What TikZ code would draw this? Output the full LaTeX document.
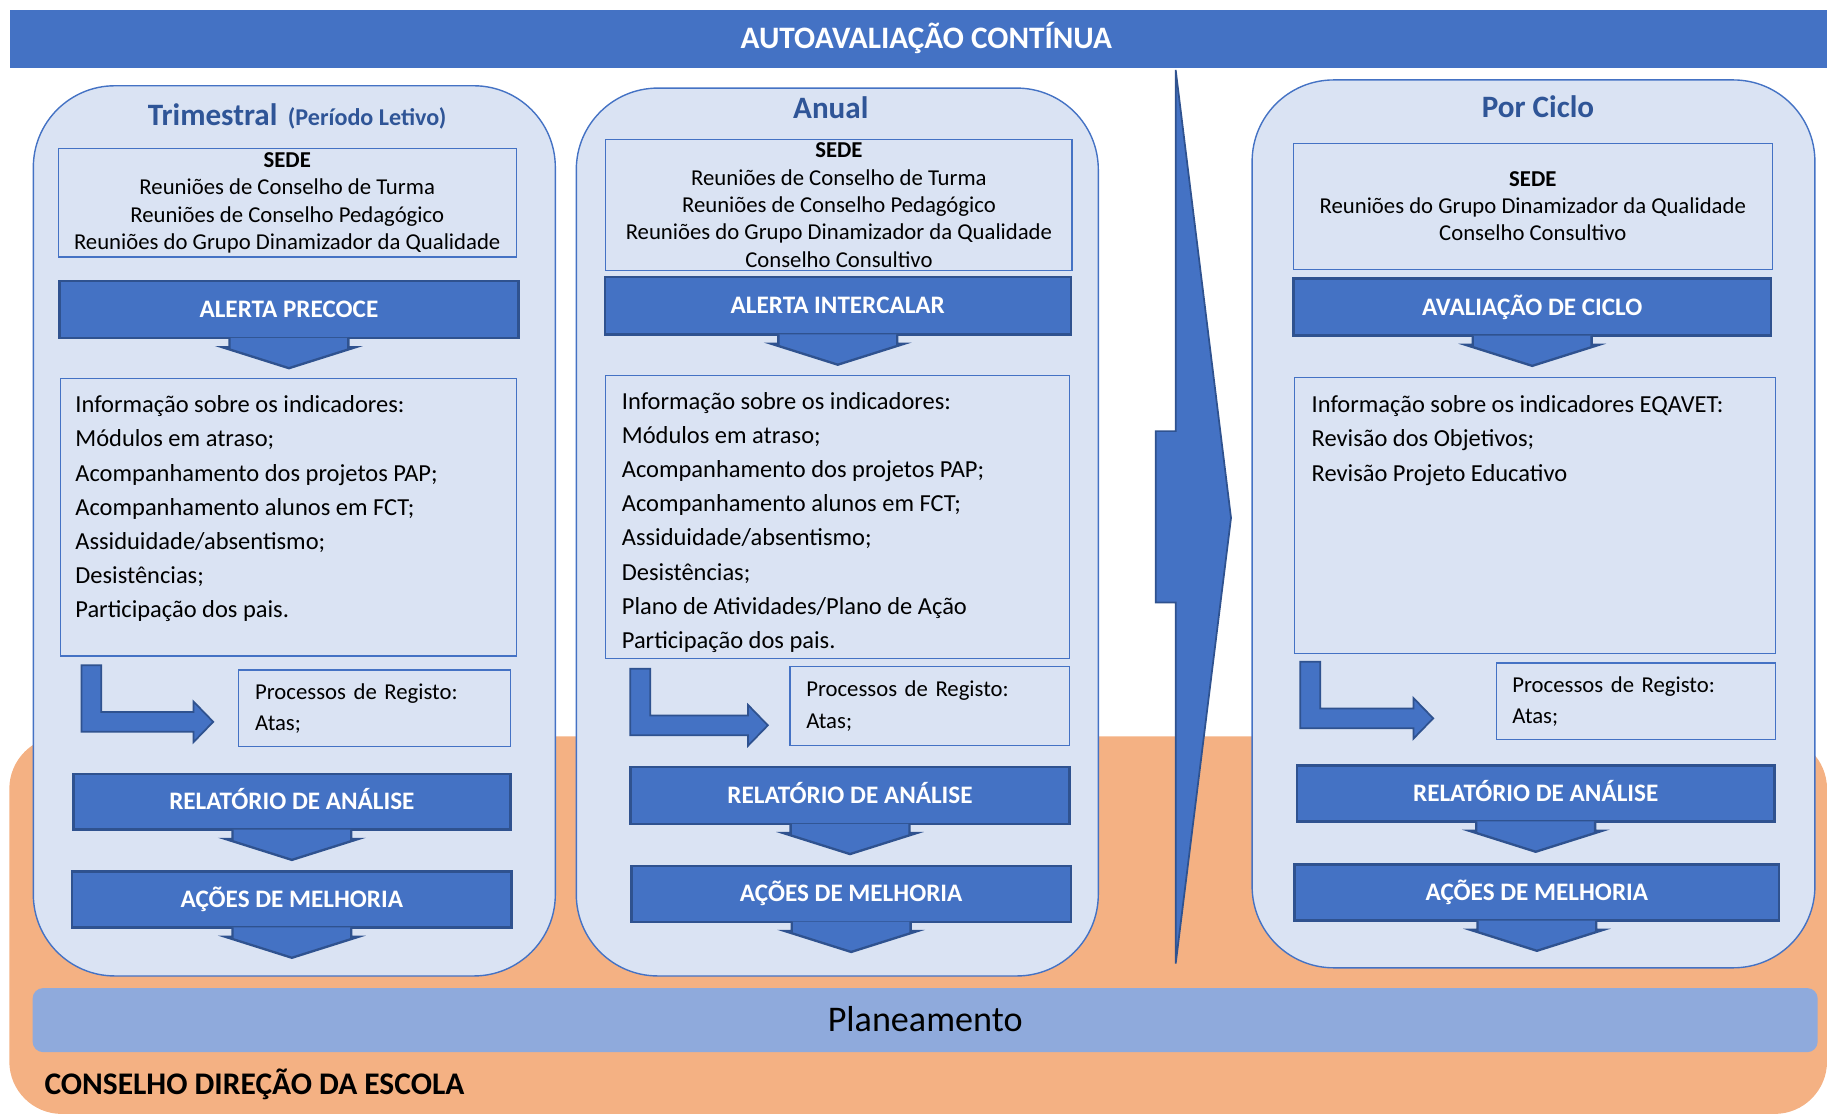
\documentclass[tikz,border=0pt]{standalone}
\usepackage{fontspec}
\setmainfont{Carlito}
\usetikzlibrary{positioning}
\definecolor{bandblue}{HTML}{4472C4}
\definecolor{banddark}{HTML}{2F528F}
\definecolor{panelfill}{HTML}{DAE3F3}
\definecolor{titleblue}{HTML}{2F5597}
\definecolor{orangebg}{HTML}{F4B183}
\definecolor{planblue}{HTML}{8FAADC}

\begin{document}
\begin{tikzpicture}[x=1pt, y=-1pt,
  panel/.style = {draw=bandblue, line width=1.2pt, fill=panelfill, rounded corners=70pt, anchor=north west},
  box/.style = {draw=bandblue, line width=1pt, inner sep=0pt},
  band/.style = {draw=banddark, line width=2pt, fill=bandblue, text=white, font=\fontsize{21.6}{25}\selectfont\bfseries, text height=13.9pt, text depth=0pt},
  tab/.style = {draw=banddark, line width=2pt, fill=bandblue},
  title/.style = {text=titleblue, font=\fontsize{26.7}{30}\selectfont\bfseries, anchor=base, inner sep=0pt},
  sedetxt/.style = {font=\fontsize{19.5}{23.5}\selectfont, align=center},
  infotxt/.style = {font=\fontsize{21}{29.3}\selectfont, align=left, inner sep=0pt, anchor=north west},
  regtxt/.style = {font=\fontsize{19.5}{27}\selectfont, align=left, inner xsep=14pt},
  elbow/.style = {draw=banddark, line width=1.5pt, fill=bandblue}]
\useasboundingbox (0,0) rectangle (1568,956);

% fundo
\fill[orangebg, rounded corners=45pt] (8,632) rectangle (1568,956);
\node[fill=bandblue, minimum width=1560pt, minimum height=50pt, anchor=north west, inner sep=0pt] (banner) at (8,8) {};
\node[text=white, font=\fontsize{26.8}{30}\selectfont\bfseries, anchor=base, inner sep=0pt] (autoav) at (795,41.5) {AUTOAVALIAÇÃO CONTÍNUA};

% Trimestral
\node[panel, minimum width=448pt, minimum height=764pt] (tri) at (28,73) {};
\node[title] (ttri) at (255,108) {Trimestral\hspace{9pt}{\fontsize{20.7}{23}\selectfont(Período Letivo)}};
\node[box, sedetxt, minimum width=393pt, minimum height=93pt] (sede1) at (246.5,174) {\textbf{SEDE}\\Reuniões de Conselho de Turma\\Reuniões de Conselho Pedagógico\\Reuniões do Grupo Dinamizador da Qualidade};
\node[band, minimum width=394pt, minimum height=49pt] (ap) at (248,265.5) {ALERTA PRECOCE};
\draw[tab] ([xshift=-51pt,yshift=1pt]ap.south) -- ++(0pt,-8pt) -- ++(-6pt,0pt) -- ([yshift=-25pt]ap.south) -- ([xshift=57pt,yshift=-7pt]ap.south) -- ++(-6pt,0pt) -- ++(0pt,8pt);
\node[box, minimum width=391pt, minimum height=238pt] (info1) at (247.5,444) {};
\node[infotxt] (lst1) at ([xshift=13pt,yshift=-15pt]info1.north west) {Informação sobre os indicadores:\\Módulos em atraso;\\Acompanhamento dos projetos PAP;\\Acompanhamento alunos em FCT;\\Assiduidade/absentismo;\\Desistências;\\Participação dos pais.};
\draw[elbow] (70,571) -- ++(17,0) -- ++(0,40) -- ++(79,0) -- ++(0,-9) -- ++(17,17.5) -- ++(-17,17.5) -- ++(0,-9) -- ++(-96,0) -- cycle;
\node[box, regtxt, text width=205pt, minimum width=233pt, minimum height=66pt] (proc1) at (321.5,608) {Processos de Registo:\\Atas;};
\node[band, minimum width=375pt, minimum height=48pt] (rel1) at (250.5,688) {RELATÓRIO DE ANÁLISE};
\draw[tab] ([xshift=-51pt,yshift=1pt]rel1.south) -- ++(0pt,-8pt) -- ++(-6pt,0pt) -- ([yshift=-25pt]rel1.south) -- ([xshift=57pt,yshift=-7pt]rel1.south) -- ++(-6pt,0pt) -- ++(0pt,8pt);
\node[band, minimum width=377pt, minimum height=48pt] (acm1) at (250.5,772) {AÇÕES DE MELHORIA};
\draw[tab] ([xshift=-51pt,yshift=1pt]acm1.south) -- ++(0pt,-8pt) -- ++(-6pt,0pt) -- ([yshift=-25pt]acm1.south) -- ([xshift=57pt,yshift=-7pt]acm1.south) -- ++(-6pt,0pt) -- ++(0pt,8pt);

% Anual
\node[panel, minimum width=448pt, minimum height=762pt] (anual) at (494,75) {};
\node[title] (tanual) at (713,101.5) {Anual};
\node[box, sedetxt, minimum width=400pt, minimum height=113pt] (sede2) at (720,176) {\textbf{SEDE}\\Reuniões de Conselho de Turma\\Reuniões de Conselho Pedagógico\\Reuniões do Grupo Dinamizador da Qualidade\\Conselho Consultivo};
\node[band, minimum width=400pt, minimum height=49pt] (ai) at (719,262.5) {ALERTA INTERCALAR};
\draw[tab] ([xshift=-51pt,yshift=1pt]ai.south) -- ++(0pt,-8pt) -- ++(-6pt,0pt) -- ([yshift=-25pt]ai.south) -- ([xshift=57pt,yshift=-7pt]ai.south) -- ++(-6pt,0pt) -- ++(0pt,8pt);
\node[box, minimum width=398pt, minimum height=243pt] (info2) at (719,443.5) {};
\node[infotxt] (lst2) at ([xshift=14pt,yshift=-15pt]info2.north west) {Informação sobre os indicadores:\\Módulos em atraso;\\Acompanhamento dos projetos PAP;\\Acompanhamento alunos em FCT;\\Assiduidade/absentismo;\\Desistências;\\Plano de Atividades/Plano de Ação\\Participação dos pais.};
\draw[elbow] (541,574) -- ++(17,0) -- ++(0,40) -- ++(84,0) -- ++(0,-9) -- ++(17,17.5) -- ++(-17,17.5) -- ++(0,-9) -- ++(-101,0) -- cycle;
\node[box, regtxt, text width=212pt, minimum width=240pt, minimum height=68pt] (proc2) at (798,606) {Processos de Registo:\\Atas;};
\node[band, minimum width=377pt, minimum height=49pt] (rel2) at (729.5,682.5) {RELATÓRIO DE ANÁLISE};
\draw[tab] ([xshift=-51pt,yshift=1pt]rel2.south) -- ++(0pt,-8pt) -- ++(-6pt,0pt) -- ([yshift=-25pt]rel2.south) -- ([xshift=57pt,yshift=-7pt]rel2.south) -- ++(-6pt,0pt) -- ++(0pt,8pt);
\node[band, minimum width=377pt, minimum height=48pt] (acm2) at (730.5,767) {AÇÕES DE MELHORIA};
\draw[tab] ([xshift=-51pt,yshift=1pt]acm2.south) -- ++(0pt,-8pt) -- ++(-6pt,0pt) -- ([yshift=-25pt]acm2.south) -- ([xshift=57pt,yshift=-7pt]acm2.south) -- ++(-6pt,0pt) -- ++(0pt,8pt);

% seta grande
\draw[elbow] (1009,60) -- (1056.5,444.5) -- (1009,827) -- (1009,517) -- (992,517) -- (992,370) -- (1009,370) -- cycle;

% Por Ciclo
\node[panel, minimum width=483pt, minimum height=762pt] (ciclo) at (1074,68) {};
\node[title] (tciclo) at (1320,100.5) {Por Ciclo};
\node[box, sedetxt, minimum width=411pt, minimum height=108pt] (sede3) at (1315.5,177) {\textbf{SEDE}\\Reuniões do Grupo Dinamizador da Qualidade\\Conselho Consultivo};
\node[band, minimum width=410pt, minimum height=49pt] (avc) at (1315,263.5) {AVALIAÇÃO DE CICLO};
\draw[tab] ([xshift=-51pt,yshift=1pt]avc.south) -- ++(0pt,-8pt) -- ++(-6pt,0pt) -- ([yshift=-25pt]avc.south) -- ([xshift=57pt,yshift=-7pt]avc.south) -- ++(-6pt,0pt) -- ++(0pt,8pt);
\node[box, minimum width=413pt, minimum height=237pt] (info3) at (1317.5,442.5) {};
\node[infotxt] (lst3) at ([xshift=15pt,yshift=-16pt]info3.north west) {Informação sobre os indicadores EQAVET:\\Revisão dos Objetivos;\\Revisão Projeto Educativo};
\draw[elbow] (1116,568) -- ++(17,0) -- ++(0,40) -- ++(80,0) -- ++(0,-9) -- ++(17,17.5) -- ++(-17,17.5) -- ++(0,-9) -- ++(-97,0) -- cycle;
\node[box, regtxt, text width=212pt, minimum width=240pt, minimum height=66pt] (proc3) at (1404,602) {Processos de Registo:\\Atas;};
\node[band, minimum width=410pt, minimum height=48pt] (rel3) at (1318,681) {RELATÓRIO DE ANÁLISE};
\draw[tab] ([xshift=-51pt,yshift=1pt]rel3.south) -- ++(0pt,-8pt) -- ++(-6pt,0pt) -- ([yshift=-25pt]rel3.south) -- ([xshift=57pt,yshift=-7pt]rel3.south) -- ++(-6pt,0pt) -- ++(0pt,8pt);
\node[band, minimum width=416pt, minimum height=48pt] (acm3) at (1319,766) {AÇÕES DE MELHORIA};
\draw[tab] ([xshift=-51pt,yshift=1pt]acm3.south) -- ++(0pt,-8pt) -- ++(-6pt,0pt) -- ([yshift=-25pt]acm3.south) -- ([xshift=57pt,yshift=-7pt]acm3.south) -- ++(-6pt,0pt) -- ++(0pt,8pt);

% base
\node[fill=planblue, rounded corners=9pt, minimum width=1532pt, minimum height=55pt, font=\fontsize{31}{35}\selectfont, text height=20pt, text depth=0pt] (plan) at (794,875.5) {Planeamento};
\node[anchor=base west, font=\fontsize{27}{30}\selectfont\bfseries, inner sep=0pt] (cde) at (38,939) {CONSELHO DIREÇÃO DA ESCOLA};

\end{tikzpicture}
\end{document}
